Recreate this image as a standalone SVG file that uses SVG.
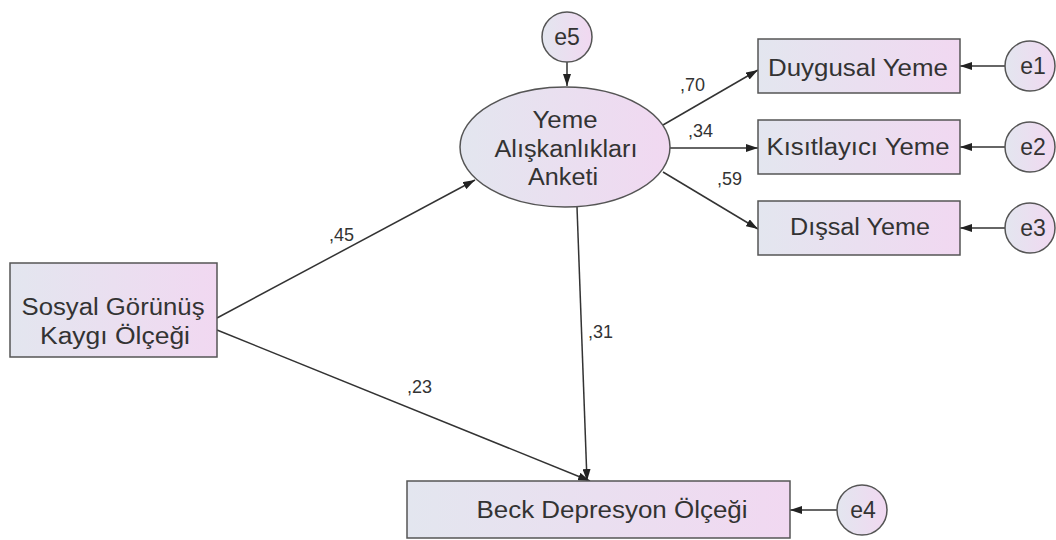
<svg xmlns="http://www.w3.org/2000/svg" width="1056" height="540" viewBox="0 0 1056 540">
<defs>
<linearGradient id="g" x1="0" y1="0" x2="1" y2="0">
<stop offset="0" stop-color="#e3e6ef"/>
<stop offset="1" stop-color="#f1d8f1"/>
</linearGradient>
<marker id="a" viewBox="0 0 12 8" refX="12" refY="4" markerWidth="12" markerHeight="8" markerUnits="userSpaceOnUse" orient="auto">
<path d="M0,0 L12,4 L0,8 Z" fill="#222"/>
</marker>
<style>
.n{fill:url(#g);stroke:#555;stroke-width:1.5}
.t{font-family:"Liberation Sans",Arial,sans-serif;font-size:23px;fill:#333;text-anchor:middle}
.w{font-family:"Liberation Sans",Arial,sans-serif;font-size:18px;fill:#333}
.c{stroke:#333;stroke-width:1.5;fill:none;marker-end:url(#a)}
</style>
</defs>
<rect width="1056" height="540" fill="#fff"/>
<g id="connectors">
<line class="c" x1="567" y1="62" x2="567" y2="86"/>
<line class="c" x1="217" y1="318" x2="475" y2="180"/>
<line class="c" x1="217" y1="330" x2="590" y2="481"/>
<line class="c" x1="577" y1="207" x2="587" y2="481"/>
<line class="c" x1="663" y1="125" x2="758" y2="70"/>
<line class="c" x1="670" y1="148" x2="758" y2="148"/>
<line class="c" x1="663" y1="172" x2="758" y2="229"/>
<line class="c" x1="1005" y1="66" x2="960" y2="66"/>
<line class="c" x1="1005" y1="147" x2="960" y2="147"/>
<line class="c" x1="1005" y1="228" x2="960" y2="228"/>
<line class="c" x1="837" y1="510" x2="790" y2="510"/>
<text class="w" x="329" y="241">,45</text>
<text class="w" x="407" y="393">,23</text>
<text class="w" x="588" y="338">,31</text>
<text class="w" x="680" y="91">,70</text>
<text class="w" x="688" y="137">,34</text>
<text class="w" x="717" y="185">,59</text>
</g>
<g id="e5"><circle class="n" cx="567" cy="37" r="25"/><text class="t" x="567" y="45">e5</text></g>
<g id="yeme"><ellipse class="n" cx="565" cy="147" rx="105" ry="60"/>
<text class="t" x="565" y="128" textLength="65" lengthAdjust="spacingAndGlyphs">Yeme</text>
<text class="t" x="566" y="157" textLength="143" lengthAdjust="spacingAndGlyphs">Alışkanlıkları</text>
<text class="t" x="563" y="185" textLength="70" lengthAdjust="spacingAndGlyphs">Anketi</text></g>
<g id="duygusal"><rect class="n" x="758" y="39" width="202" height="54"/><text class="t" x="858" y="76" textLength="180" lengthAdjust="spacingAndGlyphs">Duygusal Yeme</text></g>
<g id="kisitlayici"><rect class="n" x="758" y="120" width="202" height="54"/><text class="t" x="858" y="155" textLength="183" lengthAdjust="spacingAndGlyphs">Kısıtlayıcı Yeme</text></g>
<g id="dissal"><rect class="n" x="758" y="201" width="202" height="54"/><text class="t" x="860" y="235" textLength="140" lengthAdjust="spacingAndGlyphs">Dışsal Yeme</text></g>
<g id="e1"><circle class="n" cx="1030" cy="66" r="25"/><text class="t" x="1033" y="74">e1</text></g>
<g id="e2"><circle class="n" cx="1030" cy="147" r="25"/><text class="t" x="1033" y="155">e2</text></g>
<g id="e3"><circle class="n" cx="1030" cy="228" r="25"/><text class="t" x="1033" y="236">e3</text></g>
<g id="sosyal"><rect class="n" x="10" y="263" width="207" height="94"/>
<text class="t" x="113" y="315" textLength="183" lengthAdjust="spacingAndGlyphs">Sosyal Görünüş</text>
<text class="t" x="115" y="344" textLength="150" lengthAdjust="spacingAndGlyphs">Kaygı Ölçeği</text></g>
<g id="beck"><rect class="n" x="407" y="481" width="383" height="57"/><text class="t" x="612" y="518" textLength="271" lengthAdjust="spacingAndGlyphs">Beck Depresyon Ölçeği</text></g>
<g id="e4"><circle class="n" cx="862" cy="510" r="25"/><text class="t" x="863" y="518">e4</text></g>
</svg>
